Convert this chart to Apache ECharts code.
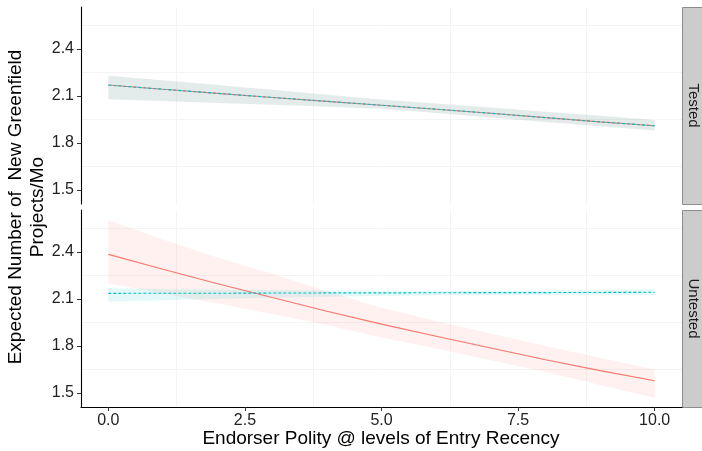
<!DOCTYPE html>
<html>
<head>
<meta charset="utf-8">
<script src="https://cdn.jsdelivr.net/npm/echarts@6/dist/echarts.min.js"></script>
<style>
  html, body { margin: 0; padding: 0; background: #fff; }
  #chart { width: 702px; height: 451px; }
</style>
</head>
<body>
<div id="chart"></div>
<script>
/* 資料 */
const xs = [0, 1, 2, 3, 4, 5, 6, 7, 8, 9, 10];
const panels = ["Tested", "Untested"];
const xTicks = [0, 2.5, 5, 7.5, 10];
const yTicks = [1.5, 1.8, 2.1, 2.4];
const xMinorGrid = [1.25, 3.75, 6.25, 8.75];
const yMinorGrid = [1.65, 1.95, 2.25, 2.55];

/* Tested: 兩條線重疊 */
const testedFit = [2.17, 2.143, 2.117, 2.091, 2.066, 2.041, 2.016, 1.99, 1.962, 1.935, 1.91];
const testedHi = [2.23, 2.2, 2.17, 2.14, 2.108, 2.078, 2.052, 2.027, 2.0, 1.974, 1.947];
const testedLo = [2.08, 2.068, 2.056, 2.044, 2.032, 2.019, 1.992, 1.963, 1.935, 1.907, 1.88];

/* Untested */
const redFit = [2.385, 2.29, 2.197, 2.11, 2.022, 1.94, 1.862, 1.787, 1.712, 1.643, 1.578];
const redHi = [2.604, 2.48, 2.365, 2.26, 2.15, 2.045, 1.96, 1.88, 1.8, 1.725, 1.651];
const redLo = [2.2, 2.135, 2.072, 2.005, 1.935, 1.855, 1.785, 1.71, 1.635, 1.552, 1.47];
const tealFit = [2.136, 2.137, 2.137, 2.138, 2.139, 2.139, 2.14, 2.141, 2.141, 2.142, 2.143];
const tealHi = [2.168, 2.164, 2.16, 2.157, 2.155, 2.153, 2.152, 2.153, 2.155, 2.158, 2.161];
const tealLo = [2.083, 2.092, 2.1, 2.108, 2.115, 2.12, 2.124, 2.126, 2.127, 2.127, 2.126];

const RED = "#F8766D";
const TEAL = "#00BFC4";
const FONT = "Liberation Sans, Arial, Helvetica, sans-serif";

const chart = echarts.init(document.getElementById("chart"), null, { renderer: "canvas" });

const grids = [
	{ left: 81, top: 7, width: 601, height: 197 },
	{ left: 81, top: 210, width: 601, height: 197 },
];

/* 建立 x / y 軸 */
const xAxes = grids.map((g, i) => ({
	type: "value",
	gridIndex: i,
	min: -0.5,
	max: 10.5,
	z: 5,
	axisLine: { show: i === 1, onZero: false, lineStyle: { color: "#000", width: 1.1 } },
	axisTick: { show: i === 1, length: 4, customValues: xTicks, lineStyle: { color: "#333" } },
	axisLabel: {
		show: i === 1,
		customValues: xTicks,
		formatter: (v) => v.toFixed(1),
		color: "#222",
		fontSize: 16,
		fontFamily: FONT,
		margin: 6,
	},
	splitLine: { show: false },
}));
const yAxes = grids.map((g, i) => ({
	type: "value",
	gridIndex: i,
	min: 1.411,
	max: 2.668,
	z: 5,
	axisLine: { show: true, onZero: false, lineStyle: { color: "#000", width: 1.1 } },
	axisTick: { show: true, length: 4, customValues: yTicks, lineStyle: { color: "#333" } },
	axisLabel: {
		customValues: yTicks,
		formatter: (v) => v.toFixed(1),
		color: "#222",
		fontSize: 16,
		fontFamily: FONT,
		margin: 7,
	},
	splitLine: { show: false },
}));

/* 淡色網格線 */
function gridSeries(i) {
	return {
		type: "line",
		xAxisIndex: i,
		yAxisIndex: i,
		z: 0,
		data: [],
		silent: true,
		markLine: {
			silent: true,
			z: 0,
			symbol: "none",
			label: { show: false },
			lineStyle: { color: "#f4f4f4", width: 1, type: "solid" },
			data: xMinorGrid.map((v) => ({ xAxis: v })).concat(yMinorGrid.map((v) => ({ yAxis: v }))),
		},
	};
}

/* 信賴區間帶 */
function ribbon(i, lo, hi, color) {
	return {
		type: "custom",
		xAxisIndex: i,
		yAxisIndex: i,
		z: 2,
		silent: true,
		clip: true,
		data: xs.map((x, k) => [x, lo[k], hi[k]]),
		encode: { x: 0, y: [1, 2] },
		renderItem(params, api) {
			if (params.dataIndex !== 0) return;
			const pts = [];
			for (let k = 0; k < xs.length; k++) pts.push(api.coord([xs[k], hi[k]]));
			for (let k = xs.length - 1; k >= 0; k--) pts.push(api.coord([xs[k], lo[k]]));
			return { type: "polygon", shape: { points: pts }, style: { fill: color } };
		},
	};
}

function fitLine(i, ys, color, dashed) {
	return {
		type: "line",
		xAxisIndex: i,
		yAxisIndex: i,
		z: 3,
		data: xs.map((x, k) => [x, ys[k]]),
		showSymbol: false,
		silent: true,
		smooth: false,
		lineStyle: { color, width: 1.1, type: dashed ? [3, 2] : "solid" },
	};
}

const series = [
	gridSeries(0),
	gridSeries(1),
	ribbon(0, testedLo, testedHi, "rgba(248,118,109,0.1)"),
	ribbon(0, testedLo, testedHi, "rgba(0,191,196,0.1)"),
	ribbon(1, redLo, redHi, "rgba(248,118,109,0.1)"),
	ribbon(1, tealLo, tealHi, "rgba(0,191,196,0.1)"),
	fitLine(0, testedFit, RED, false),
	fitLine(0, testedFit, TEAL, true),
	fitLine(1, redFit, RED, false),
	fitLine(1, tealFit, TEAL, true),
];

/* 分面標籤與軸標題 */
const graphic = [];
grids.forEach((g, i) => {
	graphic.push({
		type: "rect",
		shape: { x: 682.5, y: g.top + 0.5, width: 24, height: g.height },
		style: { fill: "#cccccc", stroke: "#8c8c8c", lineWidth: 1 },
		silent: true,
	});
	graphic.push({
		type: "text",
		x: 693,
		y: g.top + g.height / 2,
		rotation: -Math.PI / 2,
		style: {
			text: panels[i],
			fill: "#1a1a1a",
			font: "15px " + FONT,
			textAlign: "center",
			textVerticalAlign: "middle",
		},
		silent: true,
	});
});
graphic.push({
	type: "text",
	x: 27,
	y: 207,
	rotation: Math.PI / 2,
	style: {
		text: "Expected Number of  New Greenfield\nProjects/Mo",
		fill: "#000",
		font: "19px " + FONT,
		lineHeight: 22,
		textAlign: "center",
		textVerticalAlign: "middle",
	},
	silent: true,
});
graphic.push({
	type: "text",
	x: 381,
	y: 439,
	style: {
		text: "Endorser Polity @ levels of Entry Recency",
		fill: "#000",
		font: "19px " + FONT,
		textAlign: "center",
		textVerticalAlign: "middle",
	},
	silent: true,
});

chart.setOption({
	animation: false,
	backgroundColor: "#fff",
	grid: grids,
	xAxis: xAxes,
	yAxis: yAxes,
	series,
	graphic,
});
</script>
</body>
</html>
